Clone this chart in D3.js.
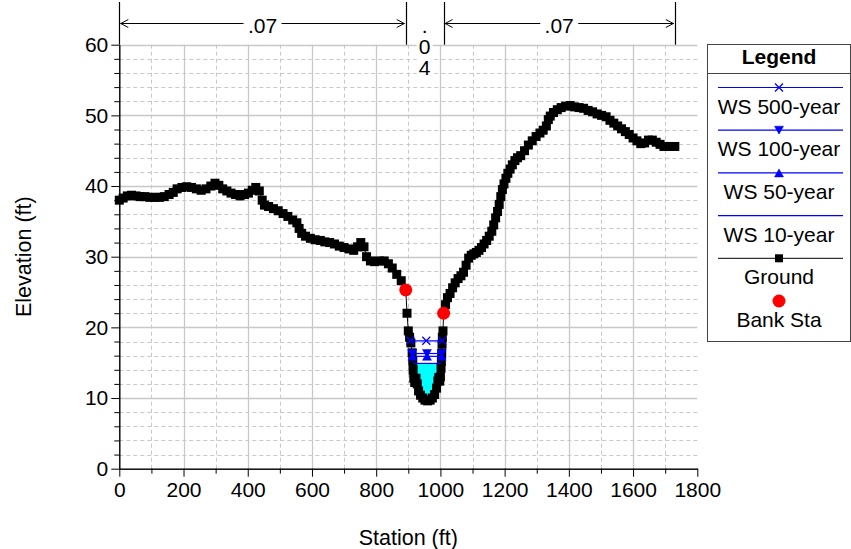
<!DOCTYPE html>
<html><head><meta charset="utf-8">
<script src="https://cdn.jsdelivr.net/npm/d3@7"></script>
<style>
body{margin:0;background:#fff}
svg text{font-family:"Liberation Sans",Arial,Helvetica,sans-serif;fill:#000}
</style>
</head><body>
<svg id="chart" width="851" height="549"></svg>
<script>
// ---------------- data ----------------
const groundStation = [0,12,25,38,52,65,80,95,110,125,140,155,168,180,195,210,225,240,255,270,285,298,310,322,335,348,362,376,390,402,414,425,436,445,452,465,480,495,510,525,540,553,560,568,580,595,610,626,640,655,670,685,700,715,730,742,752,762,770,782,795,810,825,838,850,864,878,892,896,900,904,908,912,914,915,917,920,924,928,932,938,945,952,960,968,975,982,988,992,995,998,1000,1002,1003,1004,1005,1006,1008,1010,1016,1022,1030,1038,1046,1055,1064,1072,1080,1088,1096,1104,1112,1120,1128,1136,1144,1152,1160,1166,1172,1178,1183,1188,1193,1198,1204,1210,1217,1224,1232,1240,1250,1262,1274,1286,1298,1310,1320,1330,1336,1342,1352,1364,1376,1390,1404,1418,1432,1446,1460,1474,1488,1502,1516,1528,1540,1552,1564,1576,1588,1600,1612,1624,1636,1648,1660,1672,1684,1696,1710,1730];
const groundElev = [38.0,38.3,38.6,38.7,38.6,38.5,38.5,38.4,38.4,38.4,38.5,38.8,39.1,39.6,39.8,39.9,39.8,39.6,39.4,39.6,40.0,40.4,40.1,39.6,39.3,39.0,38.8,38.6,38.8,39.0,39.4,39.8,39.3,38.0,37.3,37.1,36.8,36.5,36.1,35.7,35.2,34.8,34.0,33.3,32.9,32.6,32.4,32.3,32.1,32.0,31.8,31.5,31.3,31.1,30.9,31.4,32.0,31.4,30.0,29.4,29.3,29.4,29.4,29.0,28.4,27.5,26.6,25.3,22.0,19.5,18.6,17.8,16.4,15.2,14.0,12.8,12.2,12.8,12.0,11.0,10.4,10.0,9.7,9.6,9.7,10.0,10.5,11.4,12.4,12.9,12.4,13.0,14.2,15.2,16.3,17.6,18.6,19.5,22.0,23.2,24.2,24.8,25.6,26.3,26.9,27.3,27.8,28.8,29.8,30.2,30.4,30.6,30.9,31.3,31.8,32.3,32.9,33.6,34.5,35.5,36.4,37.4,38.5,39.5,40.3,41.1,41.8,42.4,43.0,43.6,44.0,44.3,45.0,45.8,46.4,47.0,47.5,47.9,48.5,49.4,49.9,50.4,50.8,51.1,51.3,51.4,51.2,51.1,51.0,50.7,50.5,50.2,50.0,49.8,49.3,48.9,48.5,48.1,47.7,47.3,46.8,46.4,46.0,46.1,46.5,46.5,46.2,45.9,45.6,45.6,45.6];
const bankStations = [892, 1010];
const bankElevs = [25.3, 22.0];
const wsNames = ["WS 500-year", "WS 100-year", "WS 50-year", "WS 10-year"];
const wsElevs = [18.1, 16.3, 15.9, 14.9];
const wsMarkers = ["x", "down", "up", "none"];
const nStations = [0, 892, 1010, 1730];
const nValues = [".07", ".04", ".07"];
const xTicks = [0, 200, 400, 600, 800, 1000, 1200, 1400, 1600, 1800];
const yTicks = [0, 10, 20, 30, 40, 50, 60];
const legendLabels = ["WS 500-year", "WS 100-year", "WS 50-year", "WS 10-year", "Ground", "Bank Sta"];

// ---------------- layout ----------------
const svg = d3.select("#chart");
const X0 = 119.3, X1 = 697.3, Y0 = 468.7, Y1 = 44.7;
const x = d3.scaleLinear().domain([0, 1800]).range([X0, X1]);
const y = d3.scaleLinear().domain([0, 60]).range([Y0, Y1]);
const FS = 21;
const gridCol = "#c8c8c8";
const blue = "#0000ff";
const MS = 9; // ground marker size

// grid
const g = svg.append("g");
const minorX = d3.range(100, 1800, 200);
const majorX = d3.range(200, 1800, 200);
const minorY = d3.range(2, 60, 2).filter(v => v % 10 !== 0);
const majorY = d3.range(10, 61, 10);
g.selectAll(".mx").data(minorX).join("line")
  .attr("x1", d => Math.round(x(d)) + 0.5).attr("x2", d => Math.round(x(d)) + 0.5)
  .attr("y1", Y0).attr("y2", Y1)
  .attr("stroke", gridCol).attr("stroke-dasharray", "4,3");
g.selectAll(".my").data(minorY).join("line")
  .attr("y1", d => Math.round(y(d)) + 0.5).attr("y2", d => Math.round(y(d)) + 0.5)
  .attr("x1", X0).attr("x2", X1)
  .attr("stroke", gridCol).attr("stroke-dasharray", "4,3");
g.selectAll(".Mx").data(majorX).join("line")
  .attr("x1", d => Math.round(x(d)) + 0.5).attr("x2", d => Math.round(x(d)) + 0.5)
  .attr("y1", Y0).attr("y2", Y1)
  .attr("stroke", gridCol).attr("stroke-width", 1.3);
g.selectAll(".My").data(majorY).join("line")
  .attr("y1", d => Math.round(y(d)) + 0.5).attr("y2", d => Math.round(y(d)) + 0.5)
  .attr("x1", X0).attr("x2", X1)
  .attr("stroke", gridCol).attr("stroke-width", 1.3);

// ground data
const ground = groundStation.map((s, i) => ({s, e: groundElev[i]}));

// find ws intersections in channel
let minIdx = ground.findIndex(p => p.s >= bankStations[0]);
ground.forEach((p, i) => { if (p.s >= bankStations[0] && p.s <= bankStations[1] && p.e < ground[minIdx].e) minIdx = i; });
function wsExtent(ws) {
  let i = minIdx;
  while (i > 0 && ground[i - 1].e < ws) i--;
  const a = ground[i - 1], b = ground[i];
  const sl = a.s + (ws - a.e) / (b.e - a.e) * (b.s - a.s);
  let j = minIdx;
  while (j < ground.length - 1 && ground[j + 1].e < ws) j++;
  const c = ground[j], d = ground[j + 1];
  const sr = c.s + (ws - c.e) / (d.e - c.e) * (d.s - c.s);
  return {sl, sr, i, j};
}

// water fill (lowest profile)
const low = wsElevs[wsElevs.length - 1];
const ext = wsExtent(low);
const poly = [[ext.sl, low]];
for (let k = ext.i; k <= ext.j; k++) poly.push([ground[k].s, ground[k].e]);
poly.push([ext.sr, low]);
svg.append("path")
  .attr("d", "M" + poly.map(p => x(p[0]) + "," + y(p[1])).join("L") + "Z")
  .attr("fill", "#00ffff");

// ground line + markers
svg.append("path")
  .attr("d", d3.line().x(d => x(d.s)).y(d => y(d.e))(ground))
  .attr("fill", "none").attr("stroke", "#000").attr("stroke-width", 1);
svg.append("g").selectAll("rect").data(ground).join("rect")
  .attr("x", d => x(d.s) - MS / 2).attr("y", d => y(d.e) - MS / 2)
  .attr("width", MS).attr("height", MS).attr("fill", "#000");

// marker paths
function markerPath(type) {
  if (type === "x") return "M-4,-4L4,4M-4,4L4,-4";
  if (type === "down") return "M-4.5,-4L4.5,-4L0,4Z";
  if (type === "up") return "M-4.5,4L4.5,4L0,-4Z";
  return null;
}
function drawMarker(sel, type, cx, cy) {
  const p = markerPath(type);
  if (!p) return;
  sel.append("path").attr("d", p).attr("transform", `translate(${cx},${cy})`)
    .attr("fill", type === "x" ? "none" : blue)
    .attr("stroke", blue).attr("stroke-width", type === "x" ? 1.3 : 0.5);
}

// water surfaces
wsElevs.forEach((ws, k) => {
  const e = wsExtent(ws);
  const gg = svg.append("g");
  gg.append("line").attr("x1", x(e.sl)).attr("x2", x(e.sr))
    .attr("y1", y(ws)).attr("y2", y(ws)).attr("stroke", blue).attr("stroke-width", 1.2);
  [e.sl, (e.sl + e.sr) / 2, e.sr].forEach(s => drawMarker(gg, wsMarkers[k], x(s), y(ws)));
});

// bank stations
svg.append("g").selectAll("circle").data(bankStations).join("circle")
  .attr("cx", d => x(d)).attr("cy", (d, i) => y(bankElevs[i])).attr("r", 6.5)
  .attr("fill", "#ff0000");

// axes
const fmt = d3.format("d");
const yAxis = d3.axisLeft(y).tickValues(yTicks).tickFormat(fmt).tickSize(8).tickPadding(3).tickSizeOuter(0);
const yAxisMinor = d3.axisLeft(y).tickValues(d3.range(0, 61, 2).filter(v => v % 10 !== 0)).tickSize(5).tickFormat("").tickSizeOuter(0);
const xAxis = d3.axisBottom(x).tickValues(xTicks).tickFormat(fmt).tickSize(8).tickPadding(5.5).tickSizeOuter(0);
const xAxisMinor = d3.axisBottom(x).tickValues(d3.range(100, 1800, 200)).tickSize(5).tickFormat("").tickSizeOuter(0);
function styleAxis(a) {
  a.selectAll("text").style("font-size", FS + "px").style("font-family", "'Liberation Sans',Arial,sans-serif").attr("fill", "#000");
  a.select(".domain").attr("stroke", "#000");
  a.selectAll(".tick line").attr("stroke", "#000");
}
styleAxis(svg.append("g").attr("transform", `translate(${X0},0)`).call(yAxisMinor));
styleAxis(svg.append("g").attr("transform", `translate(${X0},0)`).call(yAxis));
styleAxis(svg.append("g").attr("transform", `translate(0,${Y0})`).call(xAxisMinor));
styleAxis(svg.append("g").attr("transform", `translate(0,${Y0})`).call(xAxis));

svg.append("text").attr("x", (X0 + X1) / 2).attr("y", 545).attr("text-anchor", "middle")
  .style("font-size", "21.5px").text("Station (ft)");
svg.append("text").attr("transform", `translate(31,${(Y0 + Y1) / 2}) rotate(-90)`)
  .attr("text-anchor", "middle").style("font-size", "21.5px").text("Elevation (ft)");

// Manning's n
const nTop = 2, arrowY = 23.5;
const ng = svg.append("g");
nStations.forEach(s => {
  ng.append("line").attr("x1", Math.round(x(s)) + 0.5).attr("x2", Math.round(x(s)) + 0.5)
    .attr("y1", nTop).attr("y2", Y1).attr("stroke", "#000").attr("stroke-width", 1.2);
});
nValues.forEach((v, k) => {
  const a = x(nStations[k]), b = x(nStations[k + 1]);
  const c = (a + b) / 2;
  if (b - a > 80) {
    const half = 19;
    ng.append("line").attr("x1", a + 1).attr("x2", c - half).attr("y1", arrowY).attr("y2", arrowY).attr("stroke", "#000");
    ng.append("line").attr("x1", c + half).attr("x2", b - 1).attr("y1", arrowY).attr("y2", arrowY).attr("stroke", "#000");
    ng.append("path").attr("d", `M${a + 9},${arrowY - 4}L${a + 1.5},${arrowY}L${a + 9},${arrowY + 4}`).attr("fill", "none").attr("stroke", "#000");
    ng.append("path").attr("d", `M${b - 9},${arrowY - 4}L${b - 1.5},${arrowY}L${b - 9},${arrowY + 4}`).attr("fill", "none").attr("stroke", "#000");
    ng.append("text").attr("x", c).attr("y", 32.5).attr("text-anchor", "middle").style("font-size", FS + "px").text(v);
  } else {
    const chars = v.split("");
    ng.append("rect").attr("x", c - 8).attr("y", 37).attr("width", 16).attr("height", 40).attr("fill", "#fff");
    chars.forEach((ch, i) => {
      ng.append("text").attr("x", c).attr("y", 32.5 + i * 21).attr("text-anchor", "middle").style("font-size", FS + "px").text(ch);
    });
  }
});

// legend
const L = svg.append("g");
const lx0 = 707.5, lx1 = 850.5, ly0 = 44.5, ly1 = 341.5;
const lc = (lx0 + lx1) / 2;
L.append("rect").attr("x", lx0).attr("y", ly0).attr("width", lx1 - lx0).attr("height", ly1 - ly0)
  .attr("fill", "#fff").attr("stroke", "#444");
L.append("line").attr("x1", lx0).attr("x2", lx1).attr("y1", 73.5).attr("y2", 73.5).attr("stroke", "#444");
L.append("text").attr("x", lc).attr("y", 64).attr("text-anchor", "middle")
  .style("font-size", FS + "px").style("font-weight", "bold").text("Legend");
legendLabels.forEach((lab, i) => {
  const ly = 87.5 + i * 42.7;
  if (i < 4) {
    L.append("line").attr("x1", 718).attr("x2", 843).attr("y1", ly).attr("y2", ly).attr("stroke", blue).attr("stroke-width", 1.2);
    drawMarker(L, wsMarkers[i], lc, ly);
  } else if (i === 4) {
    L.append("line").attr("x1", 718).attr("x2", 843).attr("y1", ly).attr("y2", ly).attr("stroke", "#333").attr("stroke-width", 1.2);
    L.append("rect").attr("x", lc - 4).attr("y", ly - 4).attr("width", 8).attr("height", 8).attr("fill", "#000");
  } else {
    L.append("circle").attr("cx", lc).attr("cy", ly).attr("r", 6.5).attr("fill", "#ff0000");
  }
  L.append("text").attr("x", lc).attr("y", ly + 26).attr("text-anchor", "middle")
    .style("font-size", FS + "px").text(lab);
});
</script>
</body></html>
